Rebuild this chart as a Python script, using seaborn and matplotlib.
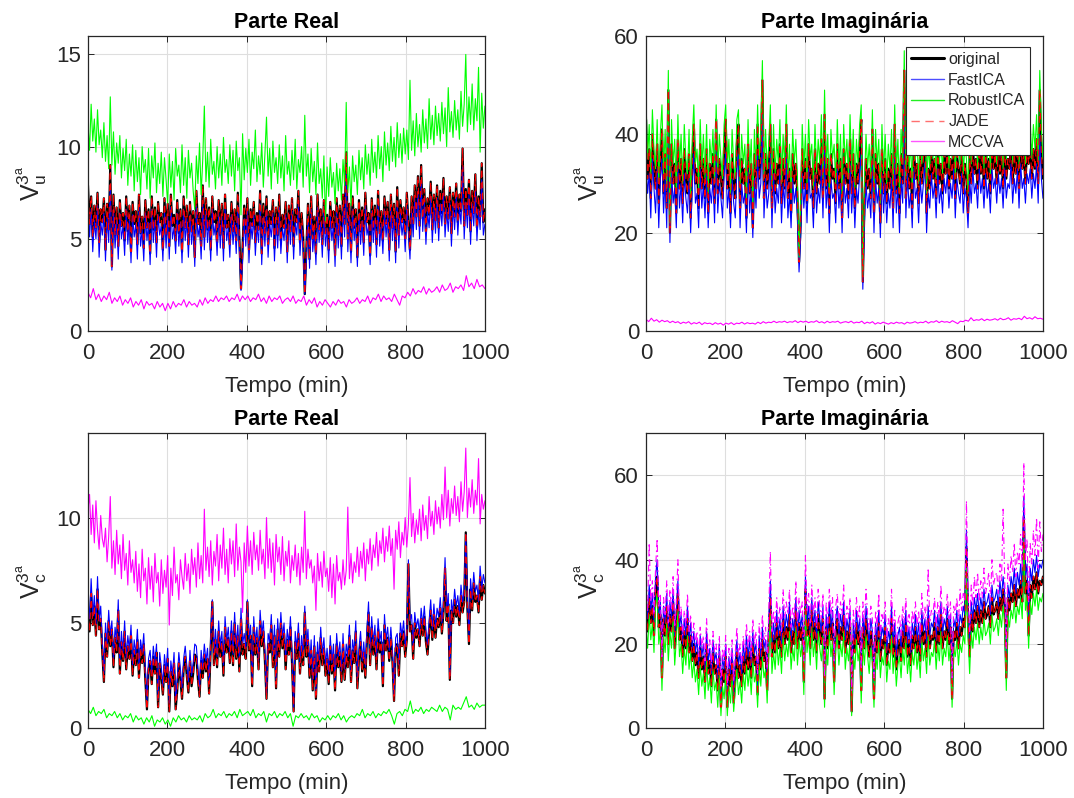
import numpy as np
import pandas as pd
import matplotlib
matplotlib.use("Agg")
import matplotlib.pyplot as plt
from matplotlib.lines import Line2D
import seaborn as sns

# ---------------------------------------------------------------------------
# Third-harmonic voltage estimates (phases u and c) over 1000 min
# ---------------------------------------------------------------------------
series_names = ["original", "FastICA", "RobustICA", "JADE", "MCCVA"]
titles = ["Parte Real", "Parte Imaginária", "Parte Real", "Parte Imaginária"]
xlabel_text = "Tempo (min)"
ylabels = [r"$\mathrm{V}_{\mathrm{u}}^{\mathrm{3^a}}$", r"$\mathrm{V}_{\mathrm{u}}^{\mathrm{3^a}}$",
           r"$\mathrm{V}_{\mathrm{c}}^{\mathrm{3^a}}$", r"$\mathrm{V}_{\mathrm{c}}^{\mathrm{3^a}}$"]
x_ticks = [0, 200, 400, 600, 800, 1000]
y_ticks = [[0, 5, 10, 15], [0, 20, 40, 60], [0, 5, 10], [0, 20, 40, 60]]
y_limits = [(0, 16), (0, 60), (0, 14), (0, 70)]
t_end = 1000

# ---- phase u, real part ----
orig_re_u = [7.9, 5.8, 7.3, 5.1, 6.8, 5.6, 7.5, 4.8, 6.6, 5.9,
             7.2, 4.4, 6.9, 5.5, 9.0, 3.5, 7.4, 5.2, 6.7, 4.6,
             7.1, 5.7, 6.4, 4.9, 7.3, 5.4, 6.8, 4.3, 7.0, 5.8,
             6.5, 4.7, 7.4, 5.3, 6.2, 4.5, 7.1, 5.6, 6.6, 4.2,
             7.3, 5.5, 6.7, 4.8, 7.0, 5.9, 6.4, 4.4, 7.2, 5.2,
             6.9, 4.6, 7.4, 5.7, 6.3, 4.9, 7.1, 5.3, 6.6, 4.3,
             7.3, 5.6, 6.8, 4.7, 7.0, 5.4, 6.5, 4.0, 7.6, 5.8,
             6.4, 4.6, 7.9, 5.1, 7.2, 5.5, 6.7, 4.4, 7.3, 5.9,
             6.5, 4.8, 7.1, 5.2, 6.9, 4.5, 7.4, 5.6, 6.3, 4.7,
             7.0, 5.4, 6.6, 4.9, 7.5, 5.0, 2.3, 4.6, 6.8, 5.3,
             7.2, 4.4, 6.6, 5.7, 7.0, 4.8, 6.4, 5.5, 7.6, 4.2,
             6.9, 5.3, 7.3, 4.7, 6.5, 5.8, 7.1, 4.5, 6.7, 5.2,
             7.4, 4.9, 6.3, 5.6, 7.0, 4.3, 6.8, 5.4, 7.2, 4.6,
             6.6, 5.9, 7.6, 4.8, 6.4, 5.1, 2.0, 4.5, 6.9, 3.9,
             7.3, 5.0, 6.2, 4.2, 7.4, 5.5, 6.6, 4.7, 7.1, 5.3,
             6.3, 4.4, 7.0, 5.6, 6.5, 4.1, 7.2, 5.2, 6.8, 4.6,
             7.4, 5.8, 9.7, 5.0, 6.9, 4.3, 7.3, 5.6, 6.6, 4.0,
             7.1, 5.4, 6.7, 4.8, 7.5, 5.9, 6.4, 4.1, 7.2, 5.5,
             6.8, 4.7, 7.6, 5.3, 6.5, 4.9, 7.3, 5.8, 7.0, 4.4,
             7.4, 5.6, 6.9, 4.3, 7.8, 5.2, 7.1, 5.9, 6.7, 5.0,
             7.5, 6.0, 4.4, 7.3, 5.8, 7.9, 6.2, 8.4, 5.7, 9.0,
             6.1, 7.7, 5.4, 7.2, 6.3, 8.1, 5.5, 7.4, 6.0, 7.9,
             5.6, 7.6, 6.4, 8.3, 5.8, 7.3, 6.1, 7.8, 5.3, 7.5,
             6.2, 8.0, 5.9, 7.4, 6.5, 9.9, 5.7, 7.7, 6.3, 8.2,
             5.4, 7.6, 6.4, 8.5, 5.6, 7.3, 6.2, 9.1, 5.9, 6.6]
fast_re_u = [7.0, 5.1, 6.6, 4.3, 6.0, 5.0, 6.8, 4.0, 5.9, 5.2,
             6.4, 3.8, 6.2, 4.8, 7.9, 3.3, 6.6, 4.5, 6.0, 3.9,
             6.4, 5.0, 5.7, 4.1, 6.6, 4.7, 6.1, 3.7, 6.3, 5.1,
             5.8, 3.9, 6.7, 4.6, 5.5, 3.8, 6.4, 4.9, 5.9, 3.6,
             6.6, 4.8, 6.0, 4.0, 6.3, 5.2, 5.7, 3.8, 6.5, 4.5,
             6.2, 3.9, 6.7, 5.0, 5.6, 4.2, 6.4, 4.6, 5.9, 3.7,
             6.6, 4.9, 6.1, 4.0, 6.3, 4.7, 5.8, 3.5, 6.8, 5.1,
             5.7, 3.9, 7.0, 4.4, 6.5, 4.8, 6.0, 3.8, 6.6, 5.2,
             5.8, 4.1, 6.4, 4.5, 6.2, 3.8, 6.7, 4.9, 5.6, 4.0,
             6.3, 4.7, 5.9, 4.2, 6.8, 4.3, 2.2, 3.9, 6.1, 4.6,
             6.5, 3.7, 5.9, 5.0, 6.3, 4.1, 5.7, 4.8, 6.9, 3.6,
             6.2, 4.6, 6.6, 4.0, 5.8, 5.1, 6.4, 3.8, 6.0, 4.5,
             6.7, 4.2, 5.6, 4.9, 6.3, 3.7, 6.1, 4.7, 6.5, 3.9,
             5.9, 5.2, 6.9, 4.1, 5.7, 4.4, 2.0, 3.8, 6.2, 3.4,
             6.6, 4.3, 5.5, 3.6, 6.7, 4.8, 5.9, 4.0, 6.4, 4.6,
             5.6, 3.7, 6.3, 4.9, 5.8, 3.5, 6.5, 4.5, 6.1, 3.9,
             6.7, 5.1, 8.6, 4.3, 6.2, 3.7, 6.6, 4.9, 5.9, 3.5,
             6.4, 4.7, 6.0, 4.1, 6.8, 5.2, 5.7, 3.6, 6.5, 4.8,
             6.1, 4.0, 6.9, 4.6, 5.8, 4.2, 6.6, 5.1, 6.3, 3.8,
             6.7, 4.9, 6.2, 3.7, 7.0, 4.5, 6.4, 5.2, 6.0, 4.3,
             6.8, 5.3, 3.9, 6.6, 5.1, 7.2, 5.5, 7.6, 5.0, 8.1,
             5.4, 7.0, 4.7, 6.5, 5.6, 7.3, 4.8, 6.7, 5.3, 7.2,
             4.9, 6.9, 5.7, 7.5, 5.1, 6.6, 5.4, 7.0, 4.6, 6.8,
             5.5, 7.3, 5.2, 6.7, 5.8, 8.9, 5.0, 7.0, 5.6, 7.4,
             4.7, 6.9, 5.7, 7.6, 4.9, 6.6, 5.5, 8.2, 5.2, 5.8]
robust_re_u = [11.2, 9.8, 12.3, 10.3, 11.5, 9.7, 12.0, 10.1, 10.9, 9.4,
               11.3, 9.2, 10.6, 8.8, 12.7, 9.0, 10.8, 8.5, 10.2, 9.1,
               10.6, 8.3, 9.9, 8.7, 10.4, 7.9, 9.6, 8.4, 10.1, 7.6,
               9.8, 8.1, 9.4, 7.4, 10.0, 8.6, 9.3, 7.7, 9.9, 7.2,
               9.5, 8.3, 10.2, 7.5, 9.1, 8.0, 9.7, 7.3, 9.4, 8.2,
               6.9, 9.6, 7.8, 9.2, 7.1, 9.9, 8.4, 9.0, 7.5, 10.1,
               7.9, 9.4, 7.2, 9.8, 8.3, 9.1, 7.6, 6.6, 9.5, 8.0,
               10.2, 7.4, 9.3, 12.2, 8.1, 9.7, 7.8, 10.4, 8.5, 9.2,
               7.7, 10.0, 8.3, 9.6, 7.9, 10.5, 8.6, 9.3, 8.0, 10.1,
               8.4, 9.8, 7.6, 10.3, 8.7, 9.4, 6.3, 10.7, 8.2, 9.9,
               8.6, 10.4, 7.9, 9.7, 8.8, 10.9, 8.1, 9.5, 8.5, 10.2,
               7.8, 9.6, 11.6, 8.4, 9.9, 7.7, 10.3, 8.6, 9.4, 8.0,
               10.1, 8.3, 9.5, 7.6, 10.6, 8.5, 9.2, 7.9, 9.8, 8.2,
               10.4, 7.7, 9.3, 8.6, 10.0, 7.8, 11.7, 8.4, 9.6, 7.5,
               9.9, 8.1, 9.2, 7.4, 10.2, 8.0, 8.8, 7.2, 9.5, 5.9,
               8.9, 7.3, 9.4, 7.8, 8.6, 6.9, 9.1, 7.6, 8.8, 7.1,
               9.3, 7.9, 12.4, 7.5, 8.9, 6.8, 9.5, 8.1, 9.0, 7.4,
               9.8, 8.2, 9.4, 7.7, 10.1, 8.5, 9.6, 7.9, 10.4, 8.6,
               9.7, 8.3, 10.6, 8.8, 10.0, 8.1, 10.8, 9.0, 10.2, 8.7,
               11.1, 9.2, 10.5, 8.9, 11.3, 9.4, 10.7, 9.1, 11.0, 9.6,
               10.9, 9.3, 13.6, 9.8, 11.4, 9.5, 11.8, 10.0, 11.2, 9.7,
               12.0, 10.2, 11.5, 9.9, 12.6, 10.4, 11.7, 10.1, 12.2, 10.6,
               11.8, 10.3, 12.4, 10.7, 12.1, 10.0, 13.2, 10.8, 11.9, 10.5,
               12.5, 10.9, 12.0, 10.4, 13.0, 11.1, 12.3, 15.0, 10.8, 12.7,
               11.2, 13.4, 10.9, 12.6, 11.4, 14.3, 9.7, 12.9, 11.0, 12.2]
mccva_re_u = [2.1, 1.8, 2.3, 1.7, 2.0, 1.6, 1.9, 1.7, 2.1, 1.5,
              1.8, 1.6, 1.9, 1.4, 1.7, 1.5, 1.8, 1.3, 1.6, 1.4,
              1.7, 1.2, 1.6, 1.4, 1.5, 1.2, 1.6, 1.3, 1.5, 1.1,
              1.5, 1.2, 1.6, 1.3, 1.5, 1.4, 1.7, 1.3, 1.6, 1.4,
              1.5, 1.3, 1.7, 1.4, 1.8, 1.5, 1.7, 1.6, 1.9, 1.6,
              1.8, 1.7, 1.9, 1.6, 1.8, 1.7, 2.0, 1.6, 1.9, 1.7,
              1.9, 1.6, 1.8, 1.7, 2.0, 1.6, 1.8, 1.5, 1.9, 1.6,
              1.8, 1.7, 1.9, 1.5, 1.7, 1.8, 1.6, 1.9, 1.5, 1.7,
              1.6, 1.9, 1.4, 1.7, 1.5, 1.8, 1.3, 1.6, 1.4, 1.7,
              1.5, 1.3, 1.6, 1.4, 1.7, 1.5, 1.6, 1.3, 1.7, 1.5,
              1.6, 1.8, 1.5, 1.7, 1.6, 1.9, 1.5, 1.8, 1.7, 2.0,
              1.6, 1.9, 1.7, 1.8, 1.6, 2.0, 1.7, 1.4, 1.9, 1.8,
              2.1, 1.9, 2.3, 2.0, 2.2, 2.1, 2.4, 2.0, 2.3, 2.1,
              2.2, 2.4, 2.1, 2.5, 2.2, 2.3, 2.6, 2.1, 2.4, 2.3,
              2.5, 2.2, 3.0, 2.4, 2.6, 2.3, 2.8, 2.4, 2.5, 2.3]
# JADE estimate is indistinguishable from the original signal
jade_re_u = orig_re_u

# ---- phase u, imaginary part ----
orig_im_u = [43, 31, 37, 27, 40, 33, 29, 38, 26, 35,
             41, 28, 36, 25, 49, 20, 38, 30, 34, 24,
             39, 29, 35, 26, 37, 31, 28, 36, 23, 34,
             42, 30, 33, 25, 38, 29, 35, 27, 37, 24,
             34, 30, 36, 26, 43, 28, 35, 31, 27, 37,
             43, 29, 34, 24, 36, 30, 27, 38, 42, 25,
             35, 30, 33, 23, 38, 28, 34, 21, 36, 29,
             42, 31, 35, 51, 27, 36, 29, 33, 42, 25,
             37, 28, 34, 30, 38, 26, 35, 29, 42, 27,
             33, 24, 36, 30, 34, 27, 14, 22, 37, 29,
             35, 26, 38, 31, 33, 25, 37, 28, 34, 30,
             39, 27, 44, 29, 35, 24, 36, 31, 33, 26,
             38, 29, 35, 23, 37, 30, 34, 27, 39, 28,
             36, 25, 34, 30, 37, 43, 10, 26, 35, 29,
             33, 27, 41, 24, 36, 30, 34, 22, 37, 28,
             35, 26, 33, 29, 36, 25, 42, 28, 34, 24,
             36, 30, 53, 27, 37, 29, 33, 25, 38, 31,
             34, 26, 36, 30, 35, 40, 24, 33, 29, 37,
             31, 35, 27, 38, 30, 34, 28, 36, 32, 37,
             29, 35, 31, 38, 27, 36, 33, 30, 37, 28,
             34, 31, 24, 36, 30, 38, 32, 35, 29, 38,
             32, 36, 29, 37, 31, 35, 28, 38, 33, 36,
             30, 37, 32, 36, 29, 38, 31, 35, 33, 39,
             30, 36, 32, 38, 29, 40, 33, 36, 30, 37,
             34, 38, 31, 37, 33, 39, 30, 49, 36, 31]
fast_im_u = [34, 28, 32, 23, 35, 29, 24, 33, 21, 31,
             35, 24, 31, 21, 42, 18, 33, 26, 29, 21,
             34, 25, 30, 22, 32, 27, 24, 31, 20, 29,
             36, 26, 28, 21, 33, 25, 30, 23, 32, 21,
             29, 26, 31, 22, 37, 24, 30, 27, 23, 32,
             36, 25, 29, 21, 31, 26, 23, 33, 36, 21,
             30, 26, 28, 20, 33, 24, 29, 19, 31, 25,
             36, 27, 30, 44, 23, 31, 25, 28, 36, 21,
             32, 24, 29, 26, 33, 22, 30, 25, 36, 23,
             28, 21, 31, 26, 29, 23, 12, 19, 32, 25,
             30, 22, 33, 27, 28, 21, 32, 24, 29, 26,
             34, 23, 37, 25, 30, 20, 31, 27, 28, 22,
             33, 25, 30, 20, 32, 26, 29, 23, 34, 24,
             31, 21, 29, 26, 32, 36, 8.5, 22, 30, 25,
             28, 23, 35, 20, 31, 26, 29, 19, 32, 24,
             30, 22, 28, 25, 31, 21, 36, 24, 29, 20,
             31, 26, 46, 23, 32, 25, 28, 21, 33, 27,
             29, 22, 31, 26, 30, 34, 20, 28, 25, 32,
             27, 30, 23, 33, 26, 29, 24, 31, 28, 32,
             25, 30, 27, 33, 23, 31, 28, 26, 32, 24,
             29, 27, 21, 31, 26, 33, 28, 30, 25, 33,
             28, 31, 25, 32, 27, 30, 24, 33, 29, 31,
             26, 32, 28, 31, 25, 33, 27, 30, 29, 34,
             26, 31, 28, 33, 25, 34, 29, 31, 26, 32,
             30, 33, 27, 32, 29, 34, 26, 40, 31, 27]
robust_im_u = [47, 35, 42, 31, 45, 37, 33, 43, 30, 40,
               46, 32, 41, 29, 53, 22, 43, 34, 39, 28,
               44, 33, 40, 30, 42, 35, 32, 41, 27, 39,
               46, 34, 37, 29, 43, 33, 40, 31, 42, 28,
               39, 34, 41, 30, 46, 32, 40, 35, 31, 42,
               46, 33, 39, 28, 41, 34, 31, 43, 45, 29,
               40, 34, 38, 27, 43, 32, 39, 25, 41, 33,
               46, 35, 40, 55, 31, 41, 33, 38, 46, 29,
               42, 32, 39, 34, 43, 30, 40, 33, 46, 31,
               38, 28, 41, 34, 39, 31, 15, 26, 42, 33,
               40, 30, 43, 35, 38, 29, 42, 32, 39, 34,
               44, 31, 49, 33, 40, 28, 41, 35, 38, 30,
               43, 33, 40, 27, 42, 34, 39, 31, 44, 32,
               41, 29, 39, 34, 42, 46, 11, 30, 40, 33,
               38, 31, 45, 28, 41, 34, 39, 26, 42, 32,
               40, 30, 38, 33, 41, 29, 46, 32, 39, 28,
               41, 34, 57, 31, 42, 33, 38, 29, 43, 35,
               39, 30, 41, 34, 40, 44, 28, 38, 33, 42,
               35, 40, 31, 43, 34, 39, 32, 41, 36, 42,
               33, 40, 35, 43, 31, 41, 37, 34, 42, 32,
               38, 35, 28, 41, 34, 43, 36, 40, 33, 43,
               36, 41, 33, 42, 35, 40, 32, 43, 37, 41,
               34, 42, 36, 41, 33, 43, 35, 40, 37, 44,
               34, 41, 36, 57, 33, 45, 37, 41, 34, 42,
               38, 43, 35, 42, 37, 44, 34, 53, 41, 35]
mccva_im_u = [2.4, 1.9, 2.6, 2.0, 2.3, 1.8, 2.2, 1.9, 2.1, 1.7,
              2.0, 1.7, 1.9, 1.5, 1.8, 1.6, 1.9, 1.4, 1.7, 1.5,
              1.8, 1.3, 1.7, 1.5, 1.6, 1.3, 1.7, 1.4, 1.6, 1.2,
              1.6, 1.4, 1.7, 1.3, 1.6, 1.5, 1.8, 1.4, 1.7, 1.5,
              1.6, 1.4, 1.8, 1.5, 1.9, 1.6, 1.8, 1.7, 2.0, 1.7,
              1.9, 1.8, 2.0, 1.7, 1.9, 1.8, 2.1, 1.7, 2.0, 1.8,
              2.0, 1.7, 1.9, 1.8, 2.1, 1.7, 1.9, 1.6, 2.0, 1.7,
              1.9, 1.8, 2.0, 1.6, 1.8, 1.9, 1.7, 2.0, 1.6, 1.8,
              1.7, 2.0, 1.5, 1.8, 1.6, 1.9, 1.4, 1.7, 1.5, 1.8,
              1.6, 1.4, 1.7, 1.5, 1.8, 1.6, 1.7, 1.4, 1.8, 1.6,
              1.7, 1.9, 1.6, 1.8, 1.7, 2.0, 1.6, 1.9, 1.8, 2.1,
              1.7, 2.0, 1.8, 1.9, 1.7, 2.1, 1.8, 1.5, 2.0, 1.9,
              2.2, 2.0, 2.7, 2.1, 2.3, 2.2, 2.5, 2.1, 2.4, 2.2,
              2.3, 2.5, 2.2, 2.6, 2.3, 2.4, 2.7, 2.2, 2.5, 2.4,
              2.6, 2.3, 3.0, 2.5, 2.7, 2.4, 2.9, 2.5, 2.6, 2.4]
jade_im_u = orig_im_u

# ---- phase c, real part ----
orig_re_c = [5.6, 4.6, 6.4, 4.9, 5.8, 4.4, 6.6, 4.7, 5.2, 3.6,
             2.2, 4.5, 3.4, 5.1, 3.9, 4.7, 2.9, 4.3, 3.6, 5.6,
             2.6, 4.1, 3.2, 4.6, 2.8, 3.9, 3.3, 4.4, 2.5, 3.7,
             3.0, 4.2, 2.4, 3.8, 3.1, 4.0, 2.3, 0.9, 2.8, 3.2,
             2.1, 3.4, 2.6, 3.6, 1.0, 3.1, 2.4, 1.6, 3.0, 2.2,
             3.3, 0.8, 2.7, 2.0, 3.1, 0.9, 1.8, 3.1, 2.3, 1.4,
             2.8, 3.4, 2.5, 1.7, 3.2, 2.0, 2.6, 3.5, 3.4, 2.3,
             1.5, 3.2, 2.4, 3.5, 2.7, 3.3, 1.65, 3.8, 6.0, 3.0,
             4.2, 2.9, 4.6, 3.4, 4.1, 2.5, 4.8, 3.6, 4.3, 3.1,
             4.6, 3.0, 5.0, 3.3, 4.4, 2.7, 5.2, 3.5, 4.0, 3.3,
             6.0, 3.7, 4.4, 2.0, 4.8, 3.5, 4.3, 2.8, 5.1, 3.9,
             4.6, 3.2, 1.4, 4.0, 3.6, 4.9, 2.9, 4.4, 1.9, 4.7,
             3.4, 5.0, 3.8, 4.5, 2.8, 4.2, 3.5, 4.8, 3.1, 0.8,
             4.1, 3.3, 4.5, 2.6, 3.9, 3.0, 5.5, 3.4, 4.2, 2.4,
             3.7, 1.8, 3.9, 1.4, 3.6, 2.7, 4.3, 3.0, 3.8, 2.5,
             3.3, 2.1, 3.9, 2.6, 3.5, 1.8, 4.0, 2.9, 3.6, 2.2,
             4.0, 2.3, 3.5, 2.9, 4.4, 2.2, 3.7, 3.1, 4.6, 1.9,
             3.3, 4.1, 2.7, 3.6, 2.4, 4.2, 5.5, 3.0, 4.8, 3.5,
             4.4, 2.8, 4.7, 3.6, 4.1, 2.0, 4.9, 3.7, 4.3, 3.2,
             4.3, 3.2, 1.3, 3.8, 4.0, 2.5, 4.5, 3.9, 4.6, 3.4,
             4.2, 7.8, 4.6, 4.9, 3.3, 5.0, 4.3, 4.7, 3.9, 5.2,
             4.4, 5.3, 4.1, 3.5, 4.6, 5.6, 4.2, 5.4, 4.3, 5.2,
             4.8, 5.7, 4.5, 5.5, 7.6, 5.1, 5.9, 2.3, 5.6, 5.0,
             6.1, 5.3, 5.8, 4.9, 6.3, 5.5, 6.0, 9.3, 5.7, 4.0,
             6.6, 5.6, 6.9, 6.0, 6.3, 5.5, 7.2, 6.1, 6.8, 6.4]
fast_re_c = [6.1, 5.2, 7.1, 5.3, 6.3, 4.9, 7.2, 5.1, 5.8, 4.1,
             2.6, 5.0, 3.9, 5.6, 4.4, 5.1, 3.3, 4.8, 4.1, 6.1,
             3.1, 4.6, 3.6, 5.1, 3.3, 4.4, 3.7, 4.9, 3.0, 4.2,
             3.5, 4.7, 2.9, 4.2, 3.6, 4.5, 2.8, 1.3, 3.3, 3.7,
             2.6, 3.9, 3.1, 4.0, 1.4, 3.6, 2.9, 2.0, 3.5, 2.7,
             3.8, 1.2, 3.2, 2.5, 3.6, 1.3, 2.3, 3.6, 2.8, 1.9,
             3.3, 3.9, 3.0, 2.2, 3.7, 2.5, 3.1, 4.0, 3.9, 2.8,
             1.9, 3.7, 2.9, 4.0, 3.2, 3.8, 2.1, 4.3, 6.1, 3.5,
             4.7, 3.4, 5.1, 3.9, 4.6, 3.0, 5.3, 4.1, 4.8, 3.6,
             5.1, 3.5, 5.5, 3.8, 4.9, 3.2, 5.7, 4.0, 4.5, 3.8,
             6.1, 4.2, 4.9, 2.4, 5.3, 4.0, 4.8, 3.2, 5.6, 4.4,
             5.1, 3.7, 1.6, 4.5, 4.1, 5.4, 3.4, 4.9, 2.3, 5.2,
             3.9, 5.5, 4.3, 5.0, 3.3, 4.7, 4.0, 5.3, 3.6, 1.0,
             4.6, 3.8, 5.0, 3.1, 4.4, 3.5, 5.8, 3.9, 4.7, 2.9,
             4.2, 2.3, 4.4, 1.8, 4.1, 3.2, 4.8, 3.5, 4.3, 3.0,
             3.8, 2.6, 4.4, 3.1, 4.0, 2.3, 4.5, 3.4, 4.1, 2.7,
             4.5, 2.8, 4.0, 3.4, 4.9, 2.7, 4.2, 3.6, 5.1, 2.3,
             3.8, 4.6, 3.2, 4.1, 2.9, 4.7, 6.0, 3.5, 5.3, 4.0,
             4.9, 3.3, 5.2, 4.1, 4.6, 2.4, 5.4, 4.2, 4.8, 3.7,
             4.8, 3.7, 1.6, 4.3, 4.5, 3.0, 5.0, 4.4, 5.1, 3.9,
             4.7, 8.0, 5.1, 5.4, 3.8, 5.5, 4.8, 5.2, 4.4, 5.7,
             4.9, 5.8, 4.6, 4.0, 5.1, 6.1, 4.7, 5.9, 4.8, 5.7,
             5.3, 6.2, 5.0, 6.0, 8.1, 5.6, 6.4, 2.5, 6.1, 5.5,
             6.6, 5.8, 6.3, 5.4, 6.8, 6.0, 6.5, 9.2, 6.2, 4.4,
             7.1, 6.1, 7.4, 6.5, 6.8, 6.0, 7.7, 6.6, 7.3, 6.9]
robust_re_c = [0.9, 0.7, 1.0, 0.6, 0.8, 0.7, 0.9, 0.5, 0.7, 0.6,
               0.8, 0.5, 0.7, 0.4, 0.6, 0.5, 0.7, 0.3, 0.6, 0.4,
               0.5, 0.2, 0.5, 0.3, 0.6, 0.1, 0.4, 0.3, 0.5, 0.2,
               0.4, 0.1, 0.5, 0.3, 0.6, 0.4, 0.5, 0.3, 0.6, 0.4,
               0.5, 0.4, 0.6, 0.3, 0.7, 0.5, 0.6, 0.9, 0.5, 0.7,
               0.6, 0.8, 0.5, 0.7, 0.6, 0.8, 0.5, 0.9, 0.6, 0.7,
               0.8, 0.6, 0.9, 0.5, 0.7, 0.6, 0.8, 0.3, 0.7, 0.6,
               0.8, 0.5, 0.7, 0.6, 0.8, 0.5, 0.7, 0.1, 0.6, 0.5,
               0.7, 0.5, 0.6, 0.4, 0.7, 0.5, 0.6, 0.3, 0.5, 0.4,
               0.6, 0.4, 0.6, 0.5, 0.7, 0.4, 0.6, 0.3, 0.5, 0.6,
               0.5, 0.7, 0.6, 0.9, 0.5, 0.7, 0.6, 0.8, 0.5, 0.7,
               0.6, 0.8, 0.7, 0.9, 0.6, 0.2, 0.7, 0.8, 0.6, 0.9,
               0.8, 1.3, 0.7, 0.9, 0.8, 1.0, 0.7, 0.9, 0.8, 1.0,
               0.9, 0.8, 1.1, 0.8, 1.0, 0.9, 0.4, 1.1, 0.9, 1.0,
               0.9, 1.2, 1.5, 1.0, 1.1, 0.9, 1.2, 1.0, 1.1, 1.1]
mccva_re_c = [10.4, 11.1, 9.2, 10.6, 8.8, 10.8, 9.4, 8.5, 10.1, 9.0,
              8.6, 9.5, 7.9, 9.1, 11.0, 7.6, 8.9, 7.3, 9.4, 7.8,
              8.7, 7.1, 9.2, 7.5, 8.3, 6.8, 8.9, 7.4, 8.0, 6.9,
              8.4, 6.5, 7.8, 6.2, 8.5, 7.0, 7.6, 5.9, 8.1, 6.6,
              7.7, 6.0, 8.3, 6.9, 7.4, 5.8, 8.0, 6.4, 7.5, 6.7,
              8.2, 4.9, 7.6, 6.3, 8.6, 6.9, 7.3, 6.1, 8.0, 7.2,
              6.6, 8.3, 7.0, 7.8, 6.4, 8.5, 7.3, 8.1, 6.7, 8.8,
              7.1, 8.2, 6.9, 10.4, 7.5, 8.6, 7.2, 8.9, 6.8, 8.4,
              7.7, 9.2, 7.0, 8.7, 7.6, 9.5, 7.3, 8.5, 6.9, 9.0,
              7.8, 8.9, 7.2, 9.7, 7.5, 8.6, 7.9, 5.5, 8.8, 7.4,
              9.6, 7.7, 8.9, 7.3, 9.3, 8.0, 8.7, 7.5, 9.4, 7.8,
              8.5, 7.1, 10.0, 7.6, 9.0, 7.4, 8.8, 6.8, 9.2, 7.9,
              8.6, 7.3, 9.1, 7.0, 8.4, 7.7, 8.9, 6.9, 8.2, 7.5,
              8.7, 7.2, 8.3, 6.8, 8.6, 7.4, 10.3, 7.1, 8.5, 7.6,
              8.0, 6.9, 7.7, 5.6, 8.3, 7.0, 7.9, 6.7, 8.4, 7.2,
              7.6, 6.5, 8.1, 6.2, 7.8, 5.9, 8.2, 7.0, 7.4, 6.6,
              8.0, 6.8, 7.5, 10.5, 7.1, 8.3, 6.9, 7.9, 7.4, 8.6,
              7.2, 8.4, 7.6, 8.8, 7.0, 8.5, 7.8, 9.0, 7.5, 8.7,
              8.1, 9.3, 7.7, 8.9, 8.3, 9.5, 7.9, 9.1, 8.4, 9.6,
              8.2, 9.0, 6.6, 9.4, 8.5, 9.8, 8.1, 9.3, 8.7, 10.0,
              8.6, 9.7, 11.9, 9.1, 10.2, 8.8, 9.9, 9.2, 10.4, 8.9,
              10.6, 9.4, 10.1, 9.0, 11.0, 9.6, 10.3, 9.2, 10.8, 9.7,
              10.5, 9.5, 11.1, 9.9, 12.4, 10.0, 11.3, 9.6, 10.9, 10.2,
              11.5, 10.1, 11.0, 9.8, 11.7, 10.3, 11.2, 13.3, 10.0, 11.4,
              10.5, 11.8, 10.2, 11.3, 10.6, 12.8, 9.7, 11.1, 10.4, 10.8]
jade_re_c = orig_re_c

# ---- phase c, imaginary part ----
orig_im_c = [28, 23, 31, 25, 29, 22, 33, 36, 24, 27,
             12, 26, 22, 29, 20, 27, 23, 30, 19, 25,
             32, 21, 24, 17, 23, 19, 26, 18, 22, 16,
             20, 15, 18, 12, 19, 14, 17, 11, 20, 13,
             16, 10, 18, 13, 15, 9, 17, 5, 14, 11,
             17, 5, 14, 10, 16, 6, 13, 18, 12, 15,
             10, 17, 13, 19, 14, 18, 12, 20, 15, 17,
             8, 19, 14, 21, 16, 18, 9, 22, 31, 17,
             22, 18, 25, 19, 23, 17, 26, 20, 24, 21,
             27, 18, 23, 20, 28, 19, 25, 21, 24, 11,
             33, 22, 26, 19, 28, 21, 25, 18, 27, 23,
             20, 26, 7, 24, 19, 27, 21, 25, 11, 23,
             26, 19, 24, 21, 27, 18, 23, 20, 25, 4,
             22, 18, 25, 20, 23, 9, 24, 19, 26, 21,
             17, 23, 20, 7, 22, 18, 25, 16, 21, 19,
             24, 15, 20, 18, 26, 17, 22, 14, 19, 21,
             16, 23, 19, 25, 17, 21, 15, 22, 19, 24,
             18, 22, 16, 25, 20, 23, 17, 26, 19, 22,
             21, 25, 18, 24, 20, 27, 19, 23, 21, 26,
             20, 24, 7, 23, 21, 25, 19, 24, 22, 26,
             24, 43, 26, 17, 27, 23, 28, 25, 29, 24,
             28, 25, 30, 26, 27, 29, 24, 31, 27, 28,
             30, 26, 31, 28, 33, 29, 12, 31, 28, 32,
             30, 34, 29, 33, 31, 35, 30, 50, 32, 35,
             22, 34, 31, 36, 33, 37, 32, 35, 34, 36]
fast_im_c = [31, 26, 34, 28, 32, 25, 36, 40, 27, 30,
             15, 29, 25, 32, 23, 30, 26, 33, 22, 28,
             35, 24, 27, 20, 26, 22, 29, 21, 25, 19,
             23, 18, 21, 15, 22, 17, 20, 14, 23, 16,
             19, 13, 21, 16, 18, 12, 20, 7, 17, 14,
             20, 7, 17, 13, 19, 8, 16, 21, 15, 18,
             13, 20, 16, 22, 17, 21, 15, 23, 18, 20,
             10, 22, 17, 24, 19, 21, 11, 25, 35, 20,
             25, 21, 28, 22, 26, 20, 29, 23, 27, 24,
             30, 21, 26, 23, 31, 22, 28, 24, 27, 13,
             36, 25, 29, 22, 31, 24, 28, 21, 30, 26,
             23, 29, 9, 27, 22, 30, 24, 28, 13, 26,
             29, 22, 27, 24, 30, 21, 26, 23, 28, 5,
             25, 21, 28, 23, 26, 11, 27, 22, 29, 24,
             20, 26, 23, 9, 25, 21, 28, 19, 24, 22,
             27, 18, 23, 21, 29, 20, 25, 17, 22, 24,
             19, 26, 22, 28, 20, 24, 18, 25, 22, 27,
             21, 25, 19, 28, 23, 26, 20, 29, 22, 25,
             24, 28, 21, 27, 23, 30, 22, 26, 24, 29,
             23, 27, 9, 26, 24, 28, 22, 27, 25, 29,
             27, 47, 29, 20, 30, 26, 31, 28, 32, 27,
             31, 28, 33, 29, 30, 32, 27, 34, 30, 31,
             33, 29, 35, 31, 36, 32, 13, 34, 31, 36,
             33, 38, 32, 37, 34, 39, 33, 55, 36, 39,
             25, 38, 35, 40, 37, 41, 36, 39, 38, 40]
robust_im_c = [24, 19, 27, 21, 25, 18, 29, 32, 20, 23,
               9, 22, 18, 25, 16, 23, 19, 26, 15, 21,
               28, 17, 20, 13, 19, 15, 22, 14, 18, 12,
               16, 11, 14, 8, 15, 10, 13, 7, 16, 9,
               12, 6, 14, 9, 11, 5, 13, 3, 10, 7,
               13, 3, 10, 6, 12, 4, 9, 14, 8, 11,
               6, 13, 9, 15, 10, 14, 8, 16, 11, 13,
               5, 15, 10, 17, 12, 14, 6, 18, 27, 13,
               18, 14, 21, 15, 19, 13, 22, 16, 20, 17,
               23, 14, 19, 16, 24, 15, 21, 17, 20, 8,
               29, 18, 22, 15, 24, 17, 21, 14, 23, 19,
               16, 22, 5, 20, 15, 23, 17, 21, 8, 19,
               22, 15, 20, 17, 23, 14, 19, 16, 21, 3,
               18, 14, 21, 16, 19, 6, 20, 15, 22, 17,
               13, 19, 16, 5, 18, 14, 21, 12, 17, 15,
               20, 11, 16, 14, 22, 13, 18, 10, 15, 17,
               12, 19, 15, 21, 13, 17, 11, 18, 15, 20,
               14, 18, 12, 21, 16, 19, 13, 22, 15, 18,
               17, 21, 14, 20, 16, 23, 15, 19, 17, 22,
               16, 20, 5, 19, 17, 21, 15, 20, 18, 22,
               20, 38, 22, 13, 23, 19, 24, 21, 25, 20,
               24, 21, 26, 22, 23, 25, 20, 27, 23, 24,
               26, 22, 27, 24, 29, 25, 9, 27, 24, 28,
               26, 30, 25, 29, 27, 31, 26, 45, 28, 31,
               19, 30, 27, 32, 29, 33, 28, 31, 30, 32]
mccva_im_c = [33, 28, 44, 30, 35, 27, 38, 45, 29, 32,
              17, 31, 27, 35, 25, 33, 28, 36, 24, 30,
              40, 26, 29, 22, 28, 24, 32, 23, 27, 21,
              25, 20, 23, 17, 24, 19, 22, 16, 26, 18,
              21, 15, 23, 18, 20, 14, 22, 10, 19, 16,
              22, 10, 19, 15, 21, 11, 18, 24, 17, 20,
              15, 22, 18, 25, 19, 23, 17, 26, 20, 23,
              13, 25, 19, 27, 21, 24, 14, 28, 42, 23,
              28, 24, 31, 25, 29, 23, 33, 26, 30, 27,
              33, 24, 29, 26, 35, 25, 31, 27, 30, 16,
              41, 28, 32, 25, 34, 27, 31, 24, 33, 29,
              26, 32, 12, 30, 25, 33, 27, 31, 16, 29,
              32, 25, 30, 27, 34, 24, 29, 26, 31, 9,
              28, 24, 31, 26, 29, 14, 30, 25, 33, 27,
              23, 29, 26, 12, 28, 24, 32, 22, 27, 25,
              30, 21, 26, 24, 33, 23, 28, 20, 25, 27,
              22, 29, 25, 31, 23, 27, 21, 28, 25, 30,
              24, 28, 22, 32, 26, 29, 23, 38, 25, 28,
              27, 31, 24, 30, 26, 34, 25, 29, 27, 32,
              26, 30, 12, 29, 27, 31, 25, 33, 28, 32,
              30, 54, 33, 23, 34, 29, 36, 31, 37, 30,
              35, 31, 38, 32, 34, 37, 30, 40, 34, 36,
              37, 32, 39, 35, 52, 36, 19, 39, 35, 41,
              37, 44, 36, 42, 39, 46, 38, 63, 40, 45,
              30, 44, 39, 47, 41, 50, 38, 49, 42, 46]
jade_im_c = orig_im_c

panels = [
    [orig_re_u, fast_re_u, robust_re_u, jade_re_u, mccva_re_u],
    [orig_im_u, fast_im_u, robust_im_u, jade_im_u, mccva_im_u],
    [orig_re_c, fast_re_c, robust_re_c, jade_re_c, mccva_re_c],
    [orig_im_c, fast_im_c, robust_im_c, jade_im_c, mccva_im_c],
]

# ---------------------------------------------------------------------------
# Styling
# ---------------------------------------------------------------------------
sns.set_theme(style="ticks")
plt.rcParams["font.family"] = ["Liberation Sans", "DejaVu Sans"]
plt.rcParams["mathtext.fontset"] = "custom"
plt.rcParams["mathtext.rm"] = "Liberation Sans"
plt.rcParams["mathtext.it"] = "Liberation Sans:italic"
plt.rcParams["mathtext.bf"] = "Liberation Sans:bold"

ink = "#262626"
line_styles = {
    "original": dict(color="black", linewidth=1.6, linestyle="-"),
    "FastICA": dict(color="#0000ff", linewidth=0.8, linestyle="-"),
    "RobustICA": dict(color="#00ff00", linewidth=0.8, linestyle="-"),
    "JADE": dict(color="#ff0000", linewidth=0.8, linestyle=(0, (6, 4))),
    "MCCVA": dict(color="#ff00ff", linewidth=0.8, linestyle="-"),
}
legend_colors = {"original": "black", "FastICA": "#4d4dff",
                 "RobustICA": "#22ee22", "JADE": "#ff7070", "MCCVA": "#ff55ff"}

fig = plt.figure(figsize=(10.74, 7.98), dpi=100, facecolor="white")
ax_w, ax_h = 0.3696, 0.3697
positions = [
    (0.0819, 0.5852, ax_w, ax_h),
    (0.6015, 0.5852, ax_w, ax_h),
    (0.0819, 0.0873, ax_w, ax_h),
    (0.6015, 0.0873, ax_w, ax_h),
]

for k, pos in enumerate(positions):
    ax = fig.add_axes(pos)
    ax.set_facecolor("white")
    ax.set_axisbelow(True)
    ax.grid(True, color="#dedede", linewidth=0.8)
    for name, vals in zip(series_names, panels[k]):
        df = pd.DataFrame({"t": np.linspace(0, t_end, len(vals)), "v": vals})
        style = dict(line_styles[name])
        if k == 3 and name == "MCCVA":
            style["linestyle"] = (0, (6, 3, 1.5, 3))
        sns.lineplot(data=df, x="t", y="v", ax=ax, legend=False, **style)
    ax.set_xlim(0, t_end)
    ax.set_ylim(*y_limits[k])
    ax.set_xticks(x_ticks)
    ax.set_yticks(y_ticks[k])
    ax.tick_params(direction="in", top=True, right=True, length=4,
                   width=0.7, labelsize=16, colors=ink)
    ax.tick_params(axis="x", pad=8.5)
    ax.tick_params(axis="y", pad=5)
    for sp in ax.spines.values():
        sp.set_color(ink)
        sp.set_linewidth(0.9)
        sp.set_visible(True)
    ax.set_title(titles[k], fontsize=15.5, fontweight="bold", color="black", pad=6)
    ax.set_xlabel(xlabel_text, fontsize=16, color=ink, labelpad=8.5)
    ax.set_ylabel(ylabels[k], fontsize=18, color=ink, labelpad=5.5)

    if k == 1:
        handles = []
        for name in series_names:
            st = line_styles[name]
            handles.append(Line2D([0], [0], color=legend_colors[name],
                                  linewidth=2.2 if name == "original" else 1.0,
                                  linestyle=st["linestyle"]))
        leg = ax.legend(handles=handles, labels=series_names,
                        loc="upper right", bbox_to_anchor=(0.968, 0.962),
                        fontsize=11.5, frameon=True, fancybox=False,
                        framealpha=1, edgecolor=ink, borderpad=0.3,
                        labelspacing=0.36, handlelength=2.1,
                        handletextpad=0.25, borderaxespad=0.0)
        leg.get_frame().set_linewidth(0.8)

fig.savefig("out.png", dpi=100, facecolor="white")
